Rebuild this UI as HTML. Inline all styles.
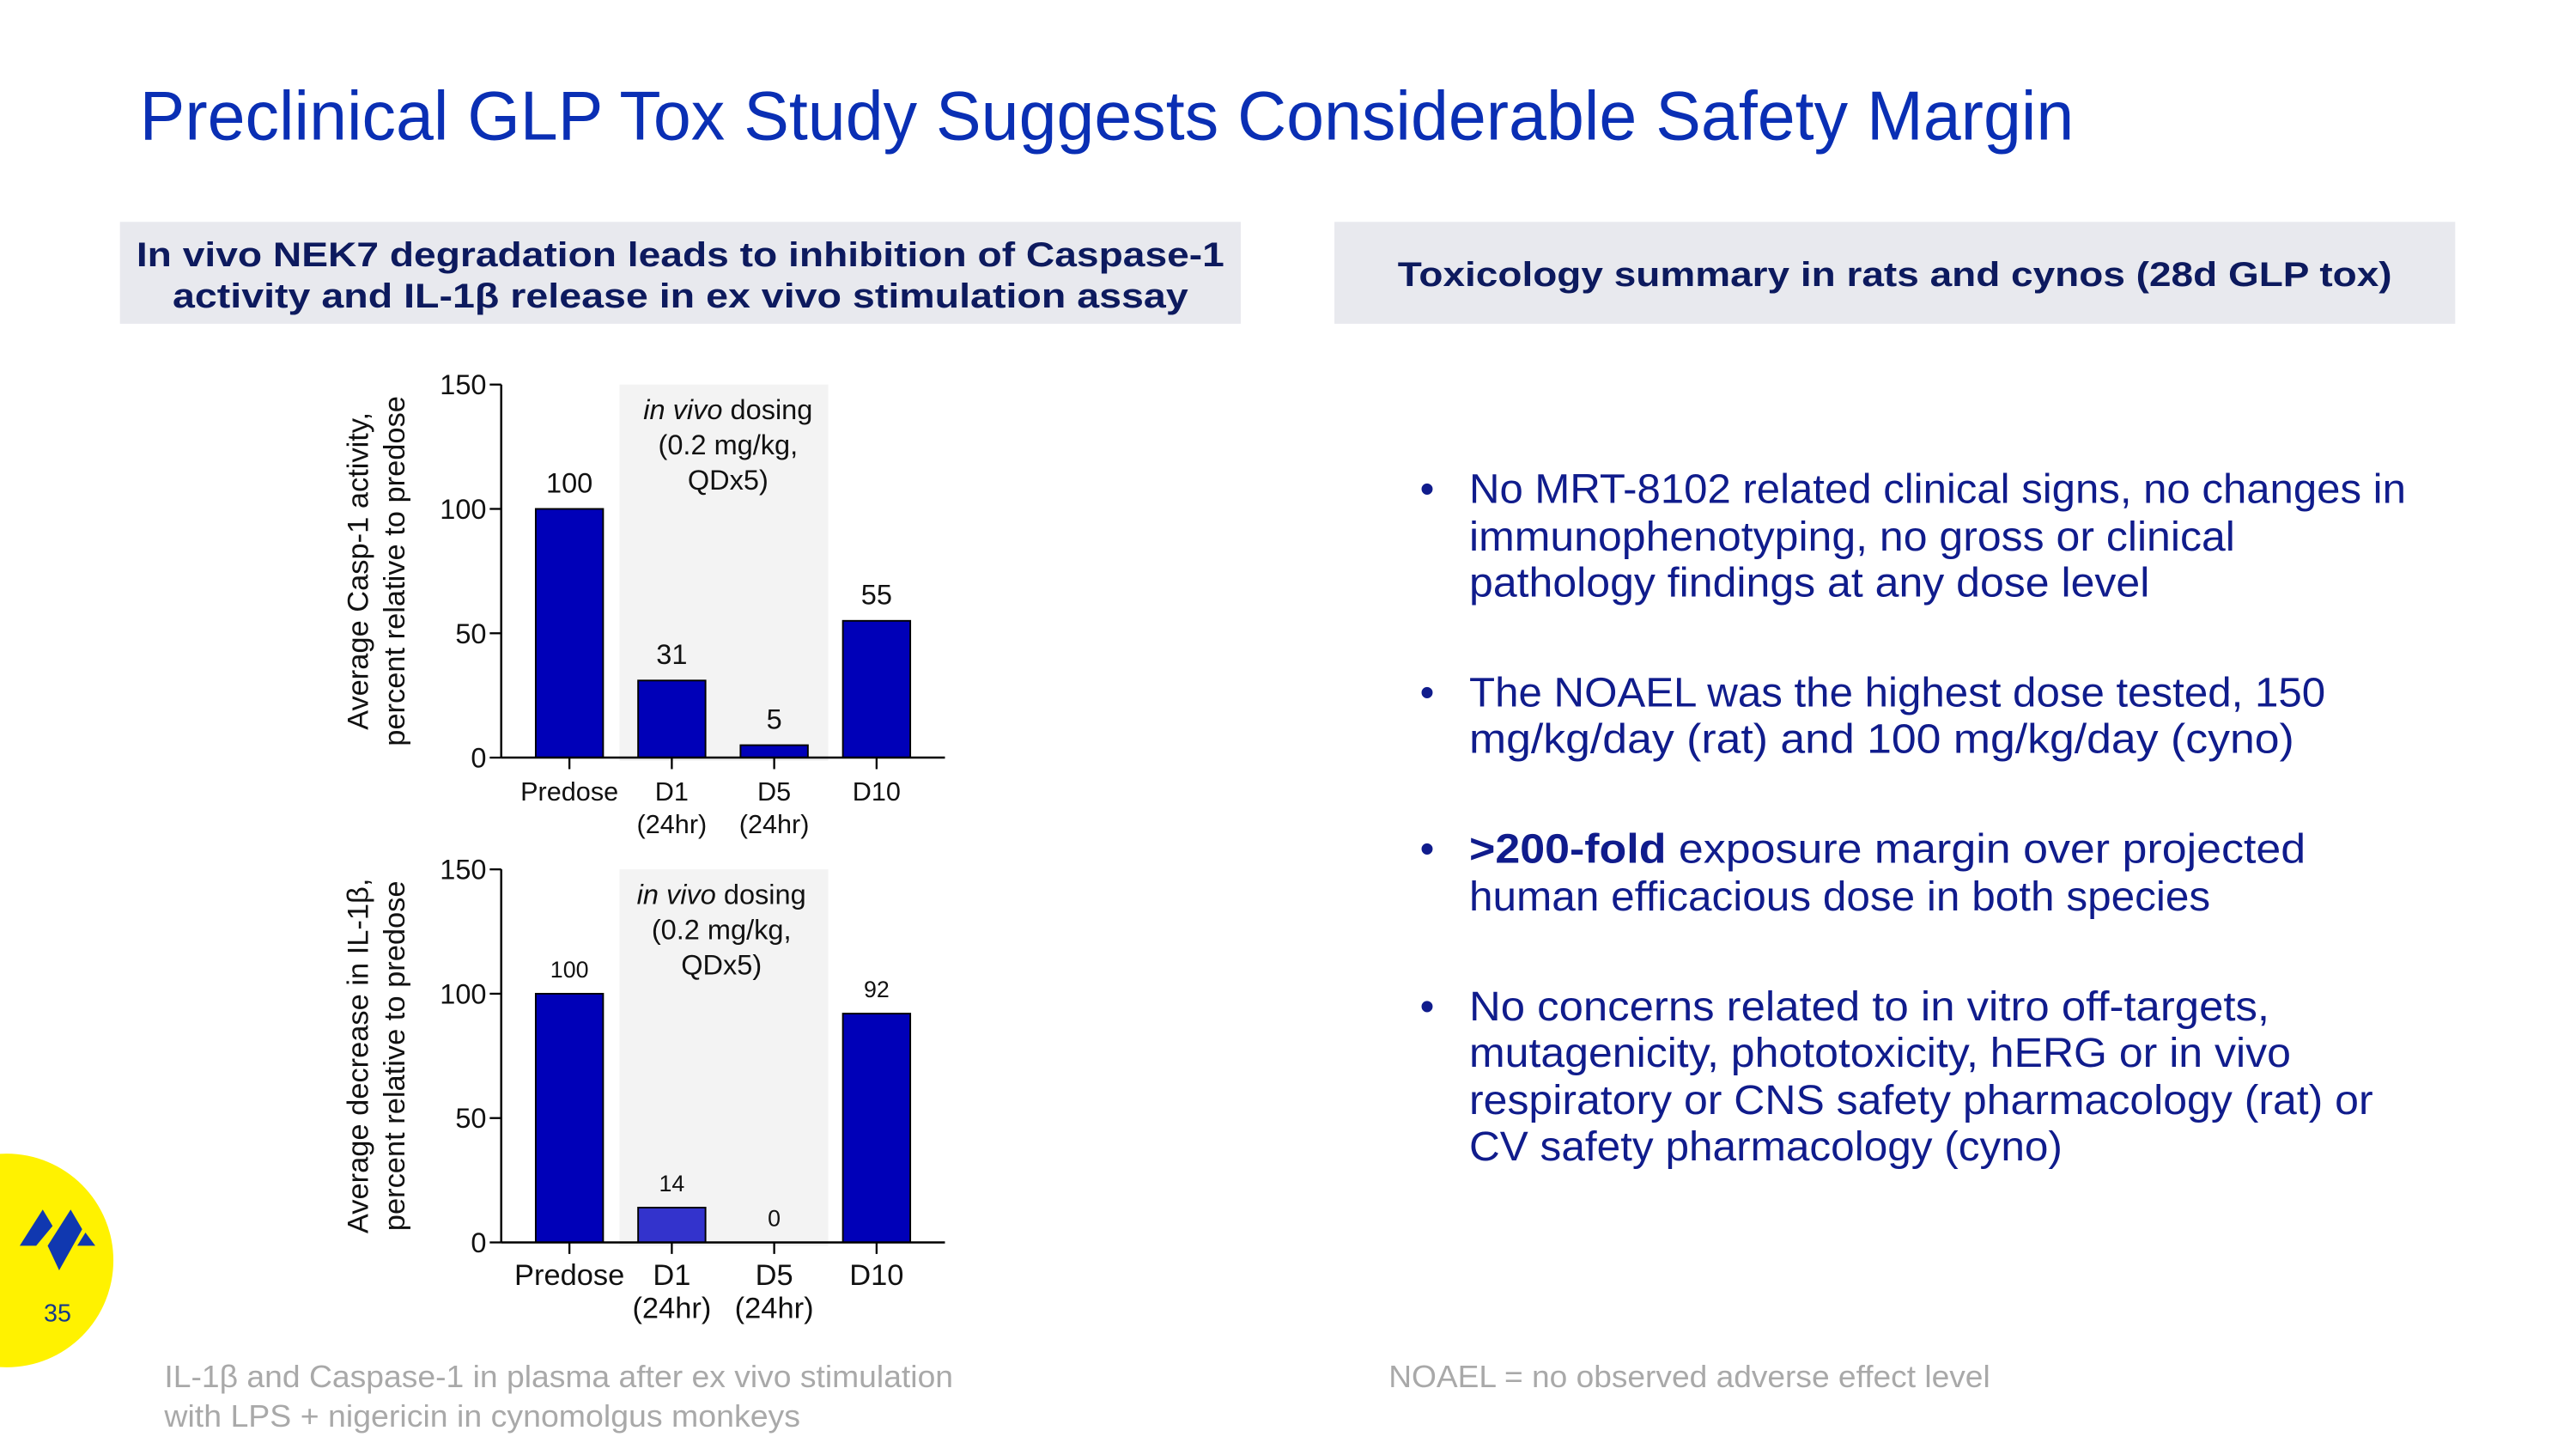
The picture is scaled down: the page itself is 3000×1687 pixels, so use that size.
<!DOCTYPE html>
<html><head><meta charset="utf-8"><style>
html,body{margin:0;padding:0;background:#fff;}
svg{display:block;}
text{font-family:"Liberation Sans",sans-serif;}
</style></head><body>
<svg id="page" width="3000" height="1687" viewBox="0 0 1567.5 881.7" preserveAspectRatio="none">
<text x="85" y="85" font-size="42" fill="#0a2fb4" textLength="1177" lengthAdjust="spacingAndGlyphs">Preclinical GLP Tox Study Suggests Considerable Safety Margin</text>

<rect x="73" y="135" width="682" height="62" fill="#e8e9ee"/>
<text x="414" y="162" font-size="21" font-weight="bold" fill="#0d1a5e" text-anchor="middle" textLength="662" lengthAdjust="spacingAndGlyphs">In vivo NEK7 degradation leads to inhibition of Caspase-1</text>
<text x="414" y="187" font-size="21" font-weight="bold" fill="#0d1a5e" text-anchor="middle" textLength="618" lengthAdjust="spacingAndGlyphs">activity and IL-1β release in ex vivo stimulation assay</text>

<rect x="812" y="135" width="682" height="62" fill="#e8e9ee"/>
<text x="1153" y="174" font-size="21" font-weight="bold" fill="#0d1a5e" text-anchor="middle" textLength="605" lengthAdjust="spacingAndGlyphs">Toxicology summary in rats and cynos (28d GLP tox)</text>

<g id="chart1"></g>
<g id="chart2"></g>

<g fill="#101c8c" font-size="25">
<text x="864" y="306">•</text>
<text x="894" y="306" textLength="570" lengthAdjust="spacingAndGlyphs">No MRT-8102 related clinical signs, no changes in</text>
<text x="894" y="335" textLength="466" lengthAdjust="spacingAndGlyphs">immunophenotyping, no gross or clinical</text>
<text x="894" y="363" textLength="414" lengthAdjust="spacingAndGlyphs">pathology findings at any dose level</text>
<text x="864" y="430">•</text>
<text x="894" y="430" textLength="521" lengthAdjust="spacingAndGlyphs">The NOAEL was the highest dose tested, 150</text>
<text x="894" y="458" textLength="502" lengthAdjust="spacingAndGlyphs">mg/kg/day (rat) and 100 mg/kg/day (cyno)</text>
<text x="864" y="525">•</text>
<text x="894" y="525" textLength="509" lengthAdjust="spacingAndGlyphs"><tspan font-weight="bold">&gt;200-fold</tspan> exposure margin over projected</text>
<text x="894" y="554" textLength="451" lengthAdjust="spacingAndGlyphs">human efficacious dose in both species</text>
<text x="864" y="621">•</text>
<text x="894" y="621" textLength="487" lengthAdjust="spacingAndGlyphs">No concerns related to in vitro off-targets,</text>
<text x="894" y="649" textLength="500" lengthAdjust="spacingAndGlyphs">mutagenicity, phototoxicity, hERG or in vivo</text>
<text x="894" y="678" textLength="550" lengthAdjust="spacingAndGlyphs">respiratory or CNS safety pharmacology (rat) or</text>
<text x="894" y="706" textLength="361" lengthAdjust="spacingAndGlyphs">CV safety pharmacology (cyno)</text>
</g>

<g fill="#a9a9a9" font-size="19">
<text x="100" y="844" textLength="480" lengthAdjust="spacingAndGlyphs">IL-1β and Caspase-1 in plasma after ex vivo stimulation</text>
<text x="100" y="868" textLength="387" lengthAdjust="spacingAndGlyphs">with LPS + nigericin in cynomolgus monkeys</text>
<text x="845" y="844" textLength="366" lengthAdjust="spacingAndGlyphs">NOAEL = no observed adverse effect level</text>
</g>

<circle cx="4" cy="767" r="65" fill="#fff200"/>
<g fill="#1038b0">
<polygon points="12,758 26,736 32,746 22,758"/>
<polygon points="29,758 43,736 50,748 36,773"/>
<polygon points="47,758 52,750 58,758"/>
</g>
<text x="35" y="804" font-size="15" fill="#153a8a" text-anchor="middle">35</text>
</svg>
<script>
const categories = ["Predose", "D1", "D5", "D10"];
const subLabels = ["", "(24hr)", "(24hr)", ""];
const casp1Values = [100, 31, 5, 55];
const il1bValues = [100, 14, 0, 92];
const yTicks = [0, 50, 100, 150];
const NS = "http://www.w3.org/2000/svg";
function mk(parent, tag, attrs, txt) {
  const e = document.createElementNS(NS, tag);
  for (const k in attrs) e.setAttribute(k, attrs[k]);
  if (txt !== undefined) e.textContent = txt;
  parent.appendChild(e);
  return e;
}
function drawChart(g, values, top, valFont, catFont, titleLines, barColors) {
  const x0 = 305, xEnd = 575, y0 = top + 227, ymax = 150;
  const yS = v => y0 - v / ymax * (y0 - top);
  const step = 62.3, first = 346.5, bw = 41;
  const xS = i => first + i * step;
  const band = mk(g, "rect", {x: 377, y: top, width: 127, height: y0 - top + 2, fill: "#f3f3f3"});
  
  
  const ann = ["dosing", "(0.2 mg/kg,", "QDx5)"];
  const ax = top === 234 ? 443 : 439;
  const t1 = mk(g, "text", {x: ax, y: top + 21, "font-size": 17, "text-anchor": "middle", fill: "#111"});
  
  
  mk(t1, "tspan", {"font-style": "italic"}, "in vivo ");
  mk(t1, "tspan", {}, "dosing");
  for (let k = 1; k < 3; k++) {
    const t = mk(g, "text", {x: ax, y: top + 21 + k * 21.5, "font-size": 17, "text-anchor": "middle", fill: "#111"}, ann[k]);
    
    
  }
  values.forEach((v, i) => {
    const b = mk(g, "rect", {x: xS(i) - bw / 2, y: yS(v), width: bw, height: y0 - yS(v), fill: barColors[i], stroke: "#000", "stroke-width": 1});
    
    
    const l = mk(g, "text", {x: xS(i), y: yS(v) - 10, "font-size": valFont, "text-anchor": "middle", fill: "#111"}, String(v));
    
    
    mk(g, "line", {x1: xS(i), x2: xS(i), y1: y0, y2: y0 + 7, stroke: "#000", "stroke-width": 1.2});
    const c = mk(g, "text", {x: xS(i), y: y0 + 26, "font-size": catFont, "text-anchor": "middle", fill: "#111"}, categories[i]);
    
    
    if (subLabels[i]) {
      const s = mk(g, "text", {x: xS(i), y: y0 + 46, "font-size": catFont, "text-anchor": "middle", fill: "#111"}, subLabels[i]);
      
      
    }
  });
  const yax = mk(g, "line", {x1: x0, x2: x0, y1: top, y2: y0, stroke: "#000", "stroke-width": 1.3});
  
  
  const xax = mk(g, "line", {x1: x0, x2: xEnd, y1: y0, y2: y0, stroke: "#000", "stroke-width": 1.3});
  
  
  yTicks.forEach(t => {
    mk(g, "line", {x1: x0 - 7, x2: x0, y1: yS(t), y2: yS(t), stroke: "#000", "stroke-width": 1.2});
    const tl = mk(g, "text", {x: x0 - 9, y: yS(t) + 6, "font-size": 17, "text-anchor": "end", fill: "#111"}, String(t));
    
    
  });
  const cy = (top + y0) / 2;
  titleLines.forEach((ln, k) => {
    const tx = 224 + k * 22;
    const tt = mk(g, "text", {x: tx, y: cy, "font-size": 18, "text-anchor": "middle", fill: "#111", transform: "rotate(-90 " + tx + " " + cy + ")"}, ln);
    
    
  });
}
drawChart(document.getElementById("chart1"), casp1Values, 234, 17, 16,
  ["Average Casp-1 activity,", "percent relative to predose"], ["#0000b8", "#0000b8", "#0000b8", "#0000b8"]);
drawChart(document.getElementById("chart2"), il1bValues, 529, 14, 18,
  ["Average decrease in IL-1β,", "percent relative to predose"], ["#0000b8", "#3333cc", "#0000b8", "#0000b8"]);
</script>
</body></html>
